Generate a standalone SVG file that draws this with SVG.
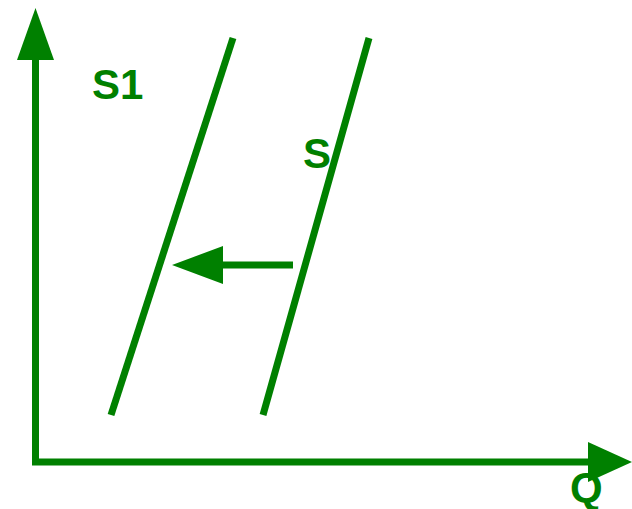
<svg xmlns="http://www.w3.org/2000/svg" width="632" height="509" viewBox="0 0 632 509">
<style>
.ln{stroke:#008000;stroke-width:7;fill:none}
.hd{fill:#008000}
.t{font-family:"Liberation Sans",Arial,sans-serif;font-weight:bold;font-size:42px;fill:#008000}
</style>
<g id="axes">
<line class="ln" x1="35.5" y1="465" x2="35.5" y2="58"/>
<polygon class="hd" points="35.5,8 17,60 54,60"/>
<line class="ln" x1="32" y1="462" x2="590" y2="462"/>
<polygon class="hd" points="632,462 588,442 588,482"/>
</g>
<g id="S1">
<line class="ln" x1="111" y1="415" x2="233" y2="38"/>
<text class="t" x="92" y="99">S1</text>
</g>
<g id="S">
<line class="ln" x1="263" y1="415" x2="369" y2="38"/>
<text class="t" x="303" y="168">S</text>
</g>
<g id="Q">
<text class="t" x="570" y="502">Q</text>
</g>
<g id="connectors">
<line class="ln" x1="293" y1="265" x2="220" y2="265"/>
<polygon class="hd" points="172,265 223,246 223,284"/>
</g>
</svg>
